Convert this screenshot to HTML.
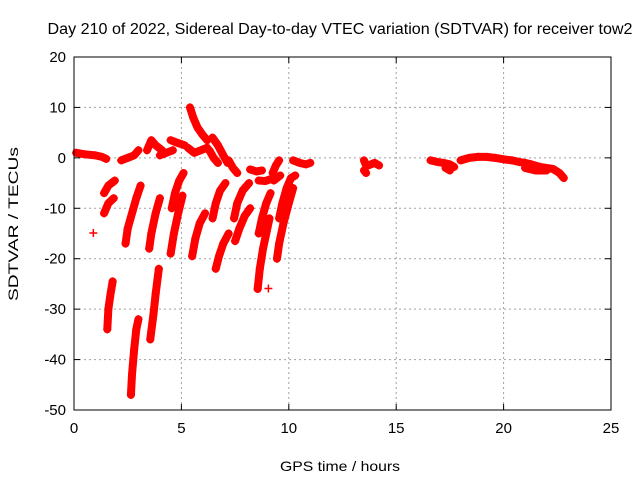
<!DOCTYPE html>
<html><head><meta charset="utf-8"><style>
body{margin:0;background:#fff;}
svg{display:block;font-family:"Liberation Sans",sans-serif;}
</style></head><body>
<svg id="chart" width="640" height="480" xmlns="http://www.w3.org/2000/svg">
<rect width="640" height="480" fill="#fff"/>
<text x="340" y="34" font-size="15.5" text-anchor="middle" textLength="585" lengthAdjust="spacingAndGlyphs">Day 210 of 2022, Sidereal Day-to-day VTEC variation (SDTVAR) for receiver tow2</text>
<text x="340" y="471" font-size="14" text-anchor="middle" textLength="120" lengthAdjust="spacingAndGlyphs">GPS time / hours</text>
<text transform="translate(18,224) rotate(-90)" font-size="14" text-anchor="middle" textLength="154" lengthAdjust="spacingAndGlyphs">SDTVAR / TECUs</text>
<g id="grid"></g><g id="marks"></g><g id="axes"></g>
</svg>
<script>
const xTicks = [0,5,10,15,20,25];
const yTicks = [-50,-40,-30,-20,-10,0,10,20];
const trackTimes = [
 [0.1,0.5,1.0,1.3,1.5],
 [1.4,1.6,1.9],
 [1.4,1.6,1.85],
 [0.9],
 [1.55,1.6,1.7,1.8],
 [2.4,2.5,2.7,2.9,3.1],
 [2.65,2.7,2.8,2.9,3.0],
 [3.55,3.7,3.8,3.95],
 [3.5,3.6,3.8,4.0],
 [2.2,2.5,2.8,3.0],
 [3.4,3.6,3.8,4.1],
 [4.55,4.7,4.9,5.1],
 [4.5,4.65,4.85,5.05],
 [5.4,5.55,5.75,6.0,6.2],
 [4.5,4.8,5.15],
 [5.3,5.6,5.9,6.2],
 [4.0,4.3,4.6],
 [6.3,6.5,6.7],
 [6.45,6.7,6.95,7.15],
 [7.2,7.4,7.6],
 [8.2,8.5,8.75],
 [8.6,8.9,9.1],
 [9.25,9.4,9.55],
 [9.3,9.6],
 [10.2,10.5,10.8,11.0],
 [6.45,6.6,6.8,7.05],
 [6.6,6.75,6.95,7.2],
 [5.5,5.65,5.85,6.1],
 [7.45,7.6,7.85,8.15],
 [7.5,7.7,7.95,8.2],
 [8.55,8.65,8.8,8.95,9.1],
 [8.6,8.75,8.95,9.15],
 [9.05],
 [9.45,9.55,9.75,10.0,10.2],
 [9.55,9.7,9.9,10.1,10.3],
 [13.5,13.6,13.7,14.0,14.2],
 [13.5,13.6],
 [16.6,16.9,17.2,17.5,17.7],
 [18.0,18.4,18.8,19.2,19.6,20.0,20.4,20.7,21.0,21.3,21.7,22.0,22.3,22.6,22.8],
 [17.3,17.5],
 [21.0,21.5,22.0]
];
const trackValues = [
 [1,0.7,0.5,0.2,-0.2],
 [-7,-5.5,-4.5],
 [-11,-9,-8],
 [-14.9],
 [-34,-30,-27,-24.5],
 [-17,-14,-11,-8,-5.5],
 [-47,-43,-38,-34,-32],
 [-36,-31,-27,-22],
 [-18,-15,-11,-8],
 [-0.5,0,0.5,1.5],
 [1.5,3.5,2.5,1.5],
 [-10,-7,-4.5,-3],
 [-19,-15,-11,-7.5],
 [10,8,6,4.5,3.5],
 [3.5,3,2.5],
 [2,1,1.5,2],
 [0.5,1,1.5],
 [1.5,0,-1],
 [4,2.5,0.5,-1],
 [-0.5,-2,-3],
 [-2.3,-2.7,-2.5],
 [-4.5,-4.6,-4.3],
 [-3,-1.5,-0.5],
 [-4.5,-3.5],
 [-0.5,-1,-1.3,-1],
 [-12,-9,-6.5,-5],
 [-22,-19.5,-17,-15],
 [-19.5,-16,-13,-11],
 [-12,-9,-6.5,-5],
 [-16.5,-14,-11.5,-10],
 [-26,-22,-18,-15,-12],
 [-15,-12,-9,-7],
 [-25.9],
 [-20,-17,-13,-9,-6],
 [-12,-9,-6,-4,-3.5],
 [-0.5,-1.5,-1.5,-1,-1.5],
 [-2.5,-3],
 [-0.5,-0.8,-1,-1.3,-1.8],
 [-0.5,0,0.2,0.2,0,-0.3,-0.5,-0.8,-1,-1.3,-1.8,-2,-2.2,-3,-4],
 [-2,-2.5],
 [-2,-2.5,-2.5]
];
const L=74,R=611,T=57,B=410;
const xMin=0,xMax=25,yMin=-50,yMax=20;
const sx=h=>L+(h-xMin)/(xMax-xMin)*(R-L);
const sy=v=>B-(v-yMin)/(yMax-yMin)*(B-T);
const NS='http://www.w3.org/2000/svg';
function mk(tag,attrs,parent){const e=document.createElementNS(NS,tag);for(const k in attrs)e.setAttribute(k,attrs[k]);parent.appendChild(e);return e;}
const grid=document.getElementById('grid'),axes=document.getElementById('axes'),marks=document.getElementById('marks');
xTicks.forEach(t=>{
 const x=sx(t);
 if(t>xMin&&t<xMax){const g=mk('line',{x1:x,x2:x,y1:T,y2:B,stroke:'#a0a0a0','stroke-dasharray':'2,3'},grid);
 
 }
 mk('line',{x1:x,x2:x,y1:B,y2:B-6,stroke:'#000'},axes);
 mk('line',{x1:x,x2:x,y1:T,y2:T+6,stroke:'#000'},axes);
 const tx=mk('text',{x:x,y:B+23,'font-size':15,'text-anchor':'middle'},axes);tx.textContent=t;
 
 
});
yTicks.forEach(t=>{
 const y=sy(t);
 if(t>yMin&&t<yMax){const g=mk('line',{x1:L,x2:R,y1:y,y2:y,stroke:'#a0a0a0','stroke-dasharray':'2,3'},grid);
 
 }
 mk('line',{x1:L,x2:L+6,y1:y,y2:y,stroke:'#000'},axes);
 mk('line',{x1:R,x2:R-6,y1:y,y2:y,stroke:'#000'},axes);
 const tx=mk('text',{x:L-8,y:y+5,'font-size':15,'text-anchor':'end'},axes);tx.textContent=t;
 
 
});
const fr=mk('rect',{x:L,y:T,width:R-L,height:B-T,fill:'none',stroke:'#000'},axes);


trackTimes.forEach((ts,i)=>{
 const vs=trackValues[i];
 const g=mk('g',{},marks);
 
 
 if(ts.length>1){
  const pts=ts.map((h,j)=>sx(h)+','+sy(vs[j])).join(' ');
  mk('polyline',{points:pts,fill:'none',stroke:'#f00','stroke-width':8,'stroke-linecap':'round','stroke-linejoin':'round'},g);
 }
 ts.forEach((h,j)=>{
  const x=sx(h),y=sy(vs[j]);
  const p=mk('path',{d:`M${x-4},${y}H${x+4}M${x},${y-4}V${y+4}`,stroke:'#f00','stroke-width':1.5},g);
  
  
 });
});
</script>
</body></html>
